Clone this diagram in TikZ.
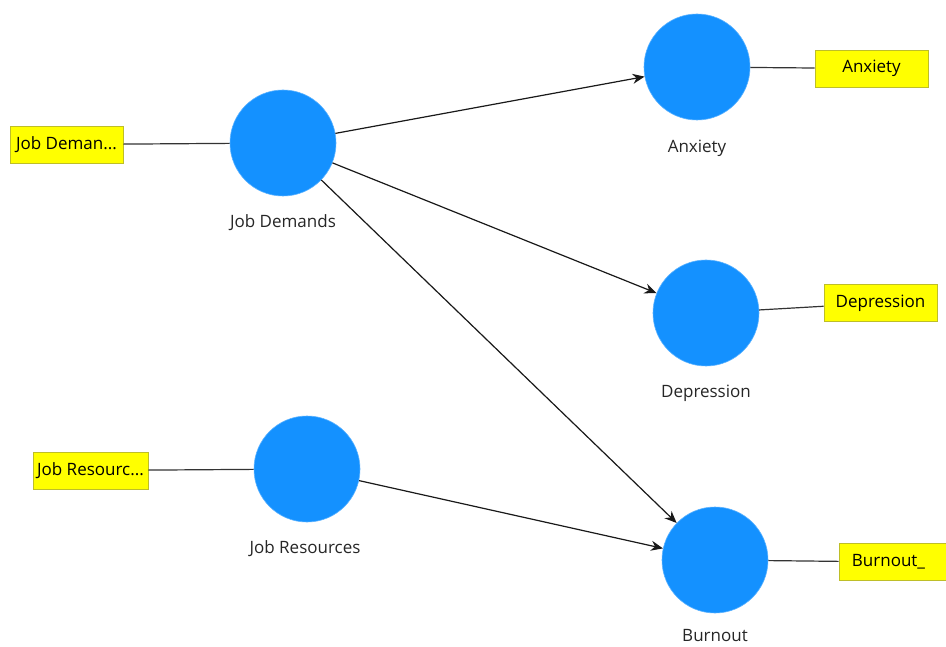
\documentclass[tikz,border=0pt]{standalone}
\usepackage{fontspec}
\setmainfont{Open Sans}
\usetikzlibrary{arrows.meta}
\definecolor{lvblue}{RGB}{20,145,255}
\definecolor{ind}{RGB}{255,255,0}
\definecolor{indb}{RGB}{190,190,40}
\begin{document}
\begin{tikzpicture}[x=1pt,y=-1pt,
  lv/.style={circle,fill=lvblue,draw=lvblue!70!white,line width=0.6pt,minimum size=106pt,inner sep=0pt},
  mv/.style={rectangle,fill=ind,draw=indb,line width=0.8pt,minimum width=113pt,minimum height=37pt,inner sep=0pt,font=\fontsize{17}{20}\selectfont},
  lbl/.style={font=\fontsize{17}{20}\selectfont,text=black!85,inner sep=0pt},
  path/.style={draw=black!90,line width=1.2pt,-{Stealth[length=12pt,width=10pt]}},
  load/.style={draw=black!80,line width=1.2pt}]
\useasboundingbox (0,0) rectangle (946,647);
\fill[white] (0,0) rectangle (946,647);
% latent variables
\node[lv] (jd) at (283,143) {};
\node[lv] (anx) at (697,67) {};
\node[lv] (dep) at (706,313) {};
\node[lv] (bur) at (715,560) {};
\node[lv] (jr) at (307,469) {};
% labels
\node[lbl] (jdl) at (283,223) {Job Demands};
\node[lbl] (anxl) at (697,148) {Anxiety};
\node[lbl] (depl) at (706,393) {Depression};
\node[lbl] (burl) at (715,636) {Burnout};
\node[lbl] (jrl) at (305,549) {Job Resources};
% indicators
\node[mv] (jdi) at (66.5,144.5) {Job Deman...};
\node[mv] (anxi) at (871.5,68.5) {Anxiety};
\node[mv] (depi) at (880.5,303) {Depression};
\node[mv] (buri) at (895.5,562) {\hspace*{-14pt}Burnout\_};
\node[mv,minimum width=115pt] (jri) at (90.5,470.5) {Job Resourc...};
% loadings
\draw[load] (jdi) -- (jd);
\draw[load] (anx) -- (anxi);
\draw[load] (dep) -- (depi);
\draw[load] (bur) -- (buri);
\draw[load] (jri) -- (jr);
% structural paths
\draw[path] (jd) -- (anx);
\draw[path] (jd) -- (dep);
\draw[path] (jd) -- (bur);
\draw[path] (jr) -- (bur);
\end{tikzpicture}
\end{document}
